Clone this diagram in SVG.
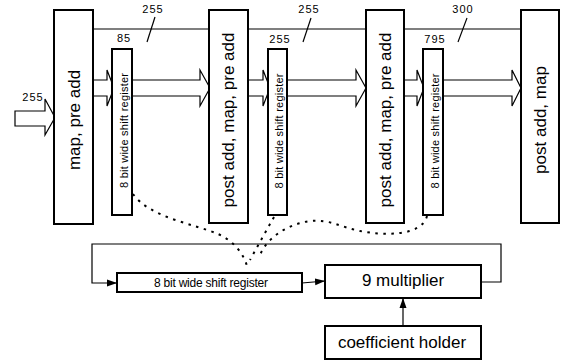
<svg xmlns="http://www.w3.org/2000/svg" width="563" height="361" viewBox="0 0 563 361">
<defs>
<style>
.box{fill:#fff;stroke:#000;stroke-width:2}
.ln{fill:none;stroke:#000;stroke-width:1.2}
.blk{fill:#fff;stroke:#000;stroke-width:1.2}
.dot{fill:none;stroke:#000;stroke-width:2;stroke-dasharray:2.5 5.5}
.big{font-family:"Liberation Sans",Arial,sans-serif;font-size:17px;fill:#000;text-anchor:middle}
.reg{font-family:"Liberation Sans",Arial,sans-serif;font-size:11px;fill:#000;text-anchor:middle}
.num{font-family:"Liberation Sans",Arial,sans-serif;font-size:11px;fill:#000;text-anchor:middle;letter-spacing:1px}
</style>
<marker id="ah" markerUnits="userSpaceOnUse" markerWidth="10" markerHeight="10" viewBox="0 0 10 10" refX="10" refY="5" orient="auto">
<path d="M0,1.5 L10,5 L0,8.5 Z" fill="#000"/>
</marker>
</defs>
<rect width="563" height="361" fill="#fff"/>

<g id="connectors">
<line class="ln" x1="93" y1="29" x2="521" y2="29"/>
<path class="blk" d="M15,111 H45 V99 L55,117.5 L45,135 V126 H15 Z"/>
<path class="blk" d="M93,80 H107 V70 L114,88 L107,106 V96 H93"/>
<path class="blk" d="M132,80 H200 V70 L210,88 L200,106 V96 H132"/>
<path class="blk" d="M248,80 H263 V70 L270,88 L263,106 V96 H248"/>
<path class="blk" d="M287,80 H356 V70 L366,88 L356,106 V96 H287"/>
<path class="blk" d="M404,80 H417 V70 L424,88 L417,106 V96 H404"/>
<path class="blk" d="M443,80 H512 V70 L521,88 L512,106 V96 H443"/>
<line class="ln" x1="155" y1="17" x2="147" y2="42"/>
<line class="ln" x1="311" y1="18" x2="303" y2="42"/>
<line class="ln" x1="467" y1="18" x2="458" y2="42"/>
<polyline class="ln" points="481,282 501,282 501,244 92,244 92,283 117,283" marker-end="url(#ah)"/>
<line class="ln" x1="302" y1="283" x2="325" y2="281" marker-end="url(#ah)"/>
<line class="ln" x1="403" y1="326" x2="403" y2="298" marker-end="url(#ah)"/>
<path class="dot" d="M133,194 C150,218 195,224 218,234 C232,240 243,252 247,266"/>
<path class="dot" d="M274,217 Q262,238 250,260"/>
<path class="dot" d="M427,216 C422,236 385,236 360,231 C340,227 330,219 310,221 C288,224 265,238 259,258"/>
</g>

<g id="labels">
<text class="num" x="153" y="13">255</text>
<text class="num" x="309" y="13">255</text>
<text class="num" x="463" y="13">300</text>
<text class="num" x="124" y="42">85</text>
<text class="num" x="280" y="43">255</text>
<text class="num" x="435" y="43">795</text>
<text class="num" x="33" y="101">255</text>
</g>

<g id="box1">
<rect class="box" x="54" y="10" width="39" height="214"/>
<text class="big" transform="translate(79.5,120) rotate(-90)">map, pre add</text>
</g>
<g id="reg1">
<rect class="box" x="112" y="49" width="20" height="166"/>
<text class="reg" transform="translate(127.5,130.5) rotate(-90)" textLength="115" lengthAdjust="spacing">8 bit wide shift register</text>
</g>
<g id="box2">
<rect class="box" x="209" y="10" width="39" height="213"/>
<text class="big" transform="translate(234,120) rotate(-90)">post add, map, pre add</text>
</g>
<g id="reg2">
<rect class="box" x="268" y="49" width="19" height="166"/>
<text class="reg" transform="translate(283,131) rotate(-90)" textLength="115" lengthAdjust="spacing">8 bit wide shift register</text>
</g>
<g id="box3">
<rect class="box" x="366" y="10" width="38" height="213"/>
<text class="big" transform="translate(390.5,120) rotate(-90)">post add, map, pre add</text>
</g>
<g id="reg3">
<rect class="box" x="423" y="49" width="20" height="166"/>
<text class="reg" transform="translate(438.5,131) rotate(-90)" textLength="115" lengthAdjust="spacing">8 bit wide shift register</text>
</g>
<g id="box4">
<rect class="box" x="521" y="10" width="38" height="213"/>
<text class="big" transform="translate(545.5,120) rotate(-90)">post add, map</text>
</g>
<g id="reg4">
<rect class="box" x="117" y="273" width="185" height="19"/>
<text class="reg" x="211" y="286.5" style="font-size:12px" textLength="114" lengthAdjust="spacing">8 bit wide shift register</text>
</g>
<g id="multiplier">
<rect class="box" x="325" y="265" width="156" height="33"/>
<text class="big" x="403" y="286">9 multiplier</text>
</g>
<g id="coeff">
<rect class="box" x="325" y="326" width="156" height="33"/>
<text class="big" x="402" y="348">coefficient holder</text>
</g>
</svg>
